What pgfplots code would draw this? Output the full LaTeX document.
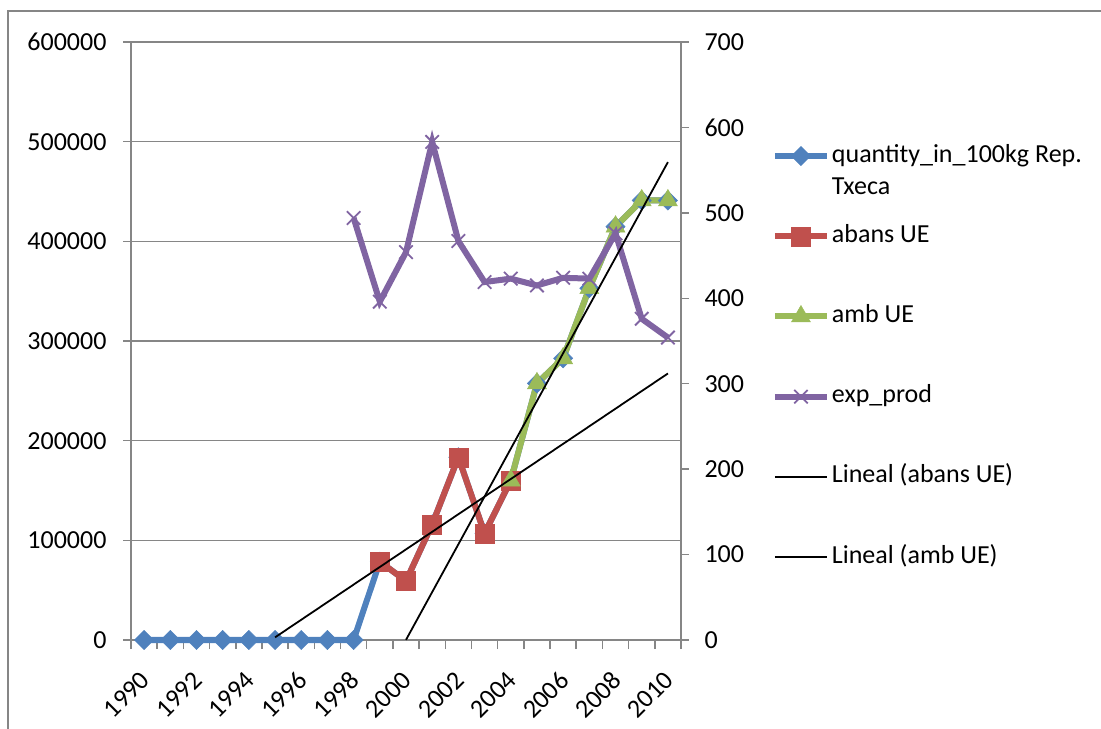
\documentclass[border=0pt]{standalone}
\usepackage{fontspec}
\setmainfont{Carlito}
\usepackage{pgfplots}
\pgfplotsset{compat=1.18}

\definecolor{xlblue}{HTML}{4F81BD}
\definecolor{xlred}{HTML}{C0504D}
\definecolor{xlgreen}{HTML}{9BBB59}
\definecolor{xlpurple}{HTML}{8064A2}
\definecolor{xlgrey}{HTML}{868686}

\newcommand\chartfont{\fontsize{26bp}{32bp}\selectfont}

\pgfplotsset{
  base/.style={
    width=550bp, height=598bp, scale only axis,
    at={(131bp,89bp)}, anchor=south west,
    xmin=1989.5, xmax=2010.5,
    clip=false,
    tick align=outside,
    major tick length=8bp,
    minor tick length=9bp,
    tick style={xlgrey, line width=1.5bp},
    axis line style={xlgrey, line width=1.5bp},
    ticklabel style={font=\chartfont, text=black},
    /pgf/number format/assume math mode=true,
    /pgf/number format/1000 sep={},
    /pgf/number format/fixed,
    legend image code/.code={%
      \draw[mark repeat=2,mark phase=2] plot coordinates {(0bp,0bp)(26bp,0bp)(52bp,0bp)};},
  },
  qty/.style={xlblue, line width=6bp, mark=square*,
    mark options={mark size=6.8bp, rotate=45, solid, line width=0.5bp}},
  abans/.style={xlred, line width=6bp, mark=square*,
    mark options={mark size=9.5bp, solid, line width=0.5bp}},
  amb/.style={xlgreen, line width=6bp, mark=triangle*,
    mark options={mark size=11bp, solid, line width=0.5bp}},
  expp/.style={xlpurple, line width=6bp, mark=x,
    mark options={mark size=9.5bp, solid, line width=1.8bp}},
  trend/.style={black, line width=1.8bp, mark=none},
}

\begin{document}
\begin{tikzpicture}
\path[use as bounding box] (0,0) rectangle (1101bp,729bp);
% outer chart frame
\draw[xlgrey, line width=1.5bp] (8bp,0bp) -- (8bp,718bp) -- (1101bp,718bp);

% left axis: quantities in 100 kg
\begin{axis}[base,
  ymin=0, ymax=600000,
  ytick={0,100000,...,600000},
  scaled y ticks=false,
  axis y line*=left, axis x line*=bottom,
  ymajorgrids, grid style={xlgrey, line width=1.5bp},
  xtick={1990,1992,...,2010},
  minor xtick={1989.5,1990.5,...,2010.5},
  major x tick style={draw=none},
  yticklabel style={xshift=-13bp},
  xticklabel style={xshift=-5bp, yshift=-17bp,
    rotate=45, anchor=north east},
]
\addplot[qty] coordinates {
  (1990,0) (1991,0) (1992,0) (1993,0) (1994,0) (1995,0) (1996,0)
  (1997,0) (1998,0) (1999,78600) (2000,59200) (2001,116100)
  (2002,183300) (2003,107000) (2004,160000) (2005,257500)
  (2006,282600) (2007,353000) (2008,414700) (2009,441000) (2010,441000)};
\addplot[abans] coordinates {
  (1999,78600) (2000,59200) (2001,116100) (2002,183300) (2003,107000) (2004,160000)};
\addplot[amb] coordinates {
  (2004,160000) (2005,257500) (2006,282600) (2007,353000)
  (2008,414700) (2009,441000) (2010,441000)};
\end{axis}

% right axis: exp_prod
\begin{axis}[base,
  ymin=0, ymax=700,
  ytick={0,100,...,700},
  axis y line*=right, axis x line=none,
  yticklabel style={xshift=12bp},
]
\addplot[expp] coordinates {
  (1998,494) (1999,396) (2000,454) (2001,583) (2002,467) (2003,419)
  (2004,423) (2005,415) (2006,424) (2007,423) (2008,476) (2009,376) (2010,354)};
\end{axis}

% linear trends on the left scale, and the legend
\begin{axis}[base,
  ymin=0, ymax=600000,
  hide axis,
  legend cell align=left,
  legend style={at={(1.165,0.833)}, anchor=north west, draw=none, fill=none,
    font=\chartfont, row sep=52.2bp, inner sep=0pt,
    nodes={inner sep=2bp, text height=18bp, text depth=6bp}},
]
\addlegendimage{qty}
\addlegendentry{\begin{tabular}[t]{@{}l@{}}quantity\_in\_100kg Rep.\\Txeca\end{tabular}}
\addlegendimage{abans}
\addlegendentry{abans UE}
\addlegendimage{amb}
\addlegendentry{amb UE}
\addlegendimage{expp}
\addlegendentry{exp\_prod}
\addplot[trend] coordinates {(1995,2650) (2010,267400)};
\addlegendentry{Lineal (abans UE)}
\addplot[trend] coordinates {(2000,180) (2010,479500)};
\addlegendentry{Lineal (amb UE)}
\end{axis}
\end{tikzpicture}
\end{document}
